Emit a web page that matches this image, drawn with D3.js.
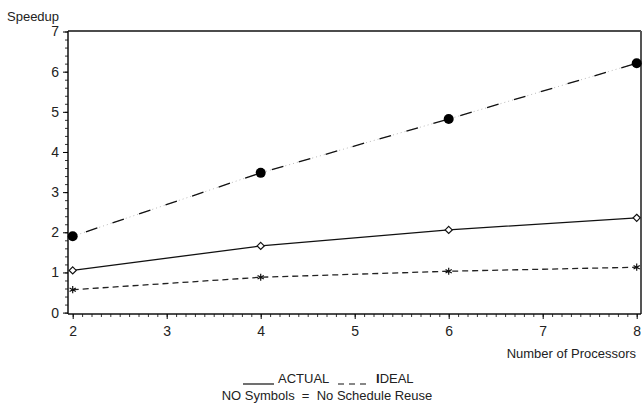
<!DOCTYPE html>
<html>
<head>
<meta charset="utf-8">
<script src="https://cdn.jsdelivr.net/npm/d3@7"></script>
<style>
  body { margin: 0; background: #fff; }
  text { font-family: "Liberation Sans", Arial, sans-serif; fill: #222; }
</style>
</head>
<body>
<div id="chart"></div>
<script>
// Data
const processors = [2, 4, 6, 8];
const ideal = [1.90, 3.48, 4.82, 6.21];
const actual = [1.05, 1.66, 2.06, 2.36];
const noReuse = [0.57, 0.88, 1.03, 1.13];
const xTicks = [2, 3, 4, 5, 6, 7, 8];
const yTicks = [0, 1, 2, 3, 4, 5, 6, 7];

const width = 642, height = 409;
const frame = { left: 68, right: 641, top: 31, bottom: 314 };

const svg = d3.select("#chart")
    .append("svg")
    .attr("width", width)
    .attr("height", height);

// Scales
const x = d3.scaleLinear().domain([2, 8]).range([72.7, 636.7]);
const y = d3.scaleLinear().domain([0, 7]).range([312.6, 31.5]);

// Frame (top and right edges)
svg.append("line")
    .attr("x1", frame.left).attr("x2", frame.right)
    .attr("y1", frame.top).attr("y2", frame.top)
    .attr("stroke", "#111").attr("stroke-width", 1.5);
svg.append("line")
    .attr("x1", frame.right).attr("x2", frame.right)
    .attr("y1", frame.top).attr("y2", frame.bottom)
    .attr("stroke", "#555").attr("stroke-width", 2);

// Y axis with minor ticks
const yMinor = d3.range(0, 7.001, 0.2);
svg.append("g")
    .attr("transform", `translate(${frame.left},0)`)
    .call(d3.axisLeft(y).tickValues(yMinor).tickSize(3).tickFormat(""))
    .call(g => g.select(".domain").remove())
    .selectAll("line").attr("stroke", "#333");
const yAxis = svg.append("g")
    .attr("transform", `translate(${frame.left},0)`)
    .call(d3.axisLeft(y).tickValues(yTicks).tickSize(5).tickPadding(4).tickFormat(d3.format("d")));
yAxis.select(".domain").attr("d", `M0,${frame.top}V${frame.bottom}`).attr("stroke", "#111").attr("stroke-width", 1.5);
yAxis.selectAll("text").style("font-size", "14px").style("font-family", "Liberation Sans, Arial, sans-serif").attr("fill", "#333");

// X axis with minor ticks
const xMinor = d3.range(2, 8.001, 0.1);
svg.append("g")
    .attr("transform", `translate(0,${frame.bottom})`)
    .call(d3.axisBottom(x).tickValues(xMinor).tickSize(3).tickFormat(""))
    .call(g => g.select(".domain").remove())
    .selectAll("line").attr("stroke", "#333");
const xAxis = svg.append("g")
    .attr("transform", `translate(0,${frame.bottom})`)
    .call(d3.axisBottom(x).tickValues(xTicks).tickSize(5).tickPadding(7).tickFormat(d3.format("d")));
xAxis.select(".domain").attr("d", `M${frame.left},0H${frame.right}`).attr("stroke", "#111").attr("stroke-width", 1.5);
xAxis.selectAll("text").style("font-size", "14px").style("font-family", "Liberation Sans, Arial, sans-serif").attr("fill", "#333");

// Axis labels
svg.append("text")
    .attr("x", 7).attr("y", 21)
    .style("font-size", "13px")
    .text("Speedup");
svg.append("text")
    .attr("x", 636).attr("y", 358)
    .attr("text-anchor", "end")
    .style("font-size", "13px")
    .text("Number of Processors");

// Lines
const line = vals => d3.line()
    .x((d, i) => x(processors[i]))
    .y(d => y(d))(vals);

// IDEAL: long dashes with faint dots between
svg.append("path")
    .attr("d", line(ideal))
    .attr("fill", "none")
    .attr("stroke", "#bbb")
    .attr("stroke-width", 1)
    .attr("stroke-dasharray", "1,3");
svg.append("path")
    .attr("d", line(ideal))
    .attr("fill", "none")
    .attr("stroke", "#111")
    .attr("stroke-width", 1.3)
    .attr("stroke-dasharray", "12,16")
    .attr("stroke-dashoffset", -14);

// ACTUAL: solid
svg.append("path")
    .attr("d", line(actual))
    .attr("fill", "none")
    .attr("stroke", "#111")
    .attr("stroke-width", 1.3);

// No schedule reuse: short dashes
svg.append("path")
    .attr("d", line(noReuse))
    .attr("fill", "none")
    .attr("stroke", "#222")
    .attr("stroke-width", 1.3)
    .attr("stroke-dasharray", "6,4");

// Markers
svg.selectAll(".ideal-pt")
    .data(ideal)
    .enter()
    .append("circle")
    .attr("cx", (d, i) => x(processors[i]))
    .attr("cy", d => y(d))
    .attr("r", 5)
    .attr("fill", "#000");

svg.selectAll(".actual-pt")
    .data(actual)
    .enter()
    .append("path")
    .attr("d", d3.symbol(d3.symbolDiamond2, 32))
    .attr("transform", (d, i) => `translate(${x(processors[i])},${y(d)})`)
    .attr("fill", "#fff")
    .attr("stroke", "#111")
    .attr("stroke-width", 1.2);

svg.selectAll(".reuse-pt")
    .data(noReuse)
    .enter()
    .append("path")
    .attr("d", d3.symbol(d3.symbolAsterisk, 36))
    .attr("transform", (d, i) => `translate(${x(processors[i])},${y(d)})`)
    .attr("fill", "none")
    .attr("stroke", "#111")
    .attr("stroke-width", 1.2);

// Legend
svg.append("line")
    .attr("x1", 243).attr("x2", 274)
    .attr("y1", 384).attr("y2", 384)
    .attr("stroke", "#111").attr("stroke-width", 1.2);
svg.append("text")
    .attr("x", 278).attr("y", 383)
    .style("font-size", "13px")
    .text("ACTUAL");
svg.append("line")
    .attr("x1", 338).attr("x2", 366)
    .attr("y1", 384).attr("y2", 384)
    .attr("stroke", "#111").attr("stroke-width", 1.2)
    .attr("stroke-dasharray", "6,5");
const idealLabel = svg.append("text")
    .attr("x", 376).attr("y", 383)
    .style("font-size", "13px");
idealLabel.append("tspan").style("font-weight", "bold").text("I");
idealLabel.append("tspan").text("DEAL");
svg.append("text")
    .attr("x", 327).attr("y", 400)
    .attr("text-anchor", "middle")
    .style("font-size", "13px")
    .style("white-space", "pre")
    .text("NO Symbols  =  No Schedule Reuse");
</script>
</body>
</html>
